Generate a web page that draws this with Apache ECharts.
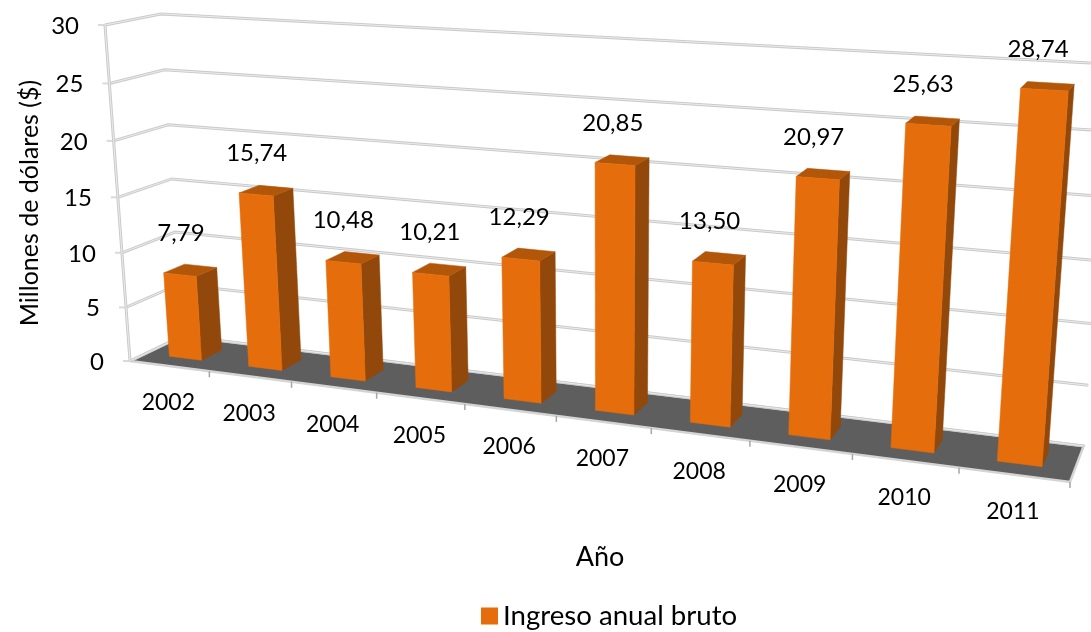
<!DOCTYPE html>
<html>
<head>
<meta charset="utf-8">
<style>
  html, body { margin: 0; padding: 0; background: #fff; }
  #main { width: 1091px; height: 632px; }
</style>
<script src="https://cdn.jsdelivr.net/npm/echarts@6/dist/echarts.min.js"></script>
</head>
<body>
<div id="main"></div>
<script>
const years = ['2002', '2003', '2004', '2005', '2006', '2007', '2008', '2009', '2010', '2011'];
const ingreso = [7.79, 15.74, 10.48, 10.21, 12.29, 20.85, 13.50, 20.97, 25.63, 28.74];
const yTicks = [0, 5, 10, 15, 20, 25, 30];

const fontName = 'Lato, "Noto Sans", sans-serif';

// projection of the chart box: origin is the front left foot of the axes,
// each edge has its end point on screen and a perspective weight
const origin = [130, 361];
const edgeU = { end: [1070, 482], weight: 0.83 };
const edgeV = { end: [105, 25], weight: 0.95 };
const edgeW = { end: [182, 336], weight: 1.045 };

function project(u, v, w) {
  const p = [0, 1].map(k => origin[k]
    + u * (edgeU.weight * edgeU.end[k] - origin[k])
    + v * (edgeV.weight * edgeV.end[k] - origin[k])
    + w * (edgeW.weight * edgeW.end[k] - origin[k]));
  const d = 1 + u * (edgeU.weight - 1) + v * (edgeV.weight - 1) + w * (edgeW.weight - 1);
  return [p[0] / d, p[1] / d];
}

// grid pixels -> unit box, so the marks still go through the axes
function toUnit(params, pt) {
  const r = params.coordSys;
  return [(pt[0] - r.x) / r.width, (r.y + r.height - pt[1]) / r.height];
}

function face(points, color) {
  return { type: 'polygon', shape: { points: points }, style: { fill: color, stroke: color, lineWidth: 0.5 } };
}

function wallLine(points, width, color) {
  return { type: 'polyline', shape: { points: points }, style: { fill: null, stroke: color, lineWidth: width } };
}

function label(text, x, y, align, size) {
  return {
    type: 'text',
    style: { text: text, x: x, y: y, align: align || 'center', verticalAlign: 'middle', fontSize: size, fontFamily: fontName, fill: '#000' }
  };
}

function renderFloor() {
  const pts = [project(0, 0, 0), project(1, 0, 0), project(1, 0, 1), project(0, 0, 1)];
  return {
    type: 'group',
    children: [
      { type: 'polygon', shape: { points: pts }, style: { fill: '#5e5e5e', stroke: '#d4d4d4', lineWidth: 2.5 } }
    ]
  };
}

function renderLevel(params, api) {
  const v = toUnit(params, api.coord([0, api.value(1)]))[1];
  const pts = [project(0, v, 0), project(0, v, 1), project(1, v, 1)];
  const front = pts[0];
  const children = [
    wallLine(pts, 3, '#cacaca'),
    wallLine(pts, 0.8, '#f4f4f4'),
    wallLine([[front[0] - 7, front[1]], front], 2, '#dadada'),
    label(String(api.value(1)), front[0] - 26, front[1] + 1, 'right', 24)
  ];
  return { type: 'group', children: children };
}

function renderAxes() {
  const pts = [project(0, 0, 0), project(0, 1, 0)];
  return {
    type: 'group',
    children: [wallLine(pts, 3, '#cacaca'), wallLine(pts, 0.8, '#f4f4f4')]
  };
}

function renderYear(params, api) {
  const i = api.value(0);
  const c = toUnit(params, api.coord([i, 0]));
  const band = api.size([1, 0])[0] / params.coordSys.width;
  const mid = project(c[0], 0, 0);
  const tickEnd = project(c[0] + band / 2, 0, 0);
  return {
    type: 'group',
    children: [
      wallLine([tickEnd, [tickEnd[0], tickEnd[1] + 6]], 1.5, '#a6a6a6'),
      label(years[i], mid[0] - 1, mid[1] + 37, 'center', 23)
    ]
  };
}

function renderBar(params, api) {
  const i = api.value(0);
  const val = api.value(1);
  const c = toUnit(params, api.coord([i, val]));
  const band = api.size([1, 0])[0] / params.coordSys.width;
  const a = c[0] - band * 0.2, b = c[0] + band * 0.21;
  const h = c[1];
  const w0 = 0.3, w1 = 0.7;
  const top = project(c[0], h, 0.5);
  return {
    type: 'group',
    children: [
      face([project(b, 0, w0), project(b, 0, w1), project(b, h, w1), project(b, h, w0)], '#91480a'),
      face([project(a, h, w0), project(b, h, w0), project(b, h, w1), project(a, h, w1)], '#b2560a'),
      face([project(a, 0, w0), project(b, 0, w0), project(b, h, w0), project(a, h, w0)], '#e56d0b'),
      label(val.toFixed(2).replace('.', ','), top[0] - 9, top[1] - 37, 'center', 24)
    ]
  };
}

const chart = echarts.init(document.getElementById('main'), null, { renderer: 'canvas' });
chart.setOption({
  animation: false,
  backgroundColor: '#fff',
  grid: { left: 0, right: 0, top: 0, bottom: 0, show: false },
  xAxis: { type: 'category', data: years, show: false },
  yAxis: { type: 'value', min: 0, max: 30, interval: 5, show: false },
  legend: {
    data: [{ name: 'Ingreso anual bruto', icon: 'rect' }],
    left: 481, top: 602, padding: 0, itemWidth: 17, itemHeight: 17, itemGap: 8,
    selectedMode: false,
    textStyle: { fontSize: 27.6, fontFamily: fontName, color: '#000', padding: [0, 0, 0, 0] }
  },
  graphic: [
    { type: 'text', x: 30, y: 203, rotation: Math.PI / 2, silent: true,
      style: { text: 'Millones de dólares ($)', align: 'center', verticalAlign: 'middle', fontSize: 25, fontFamily: fontName, fill: '#000' } },
    { type: 'text', x: 600, y: 557, silent: true,
      style: { text: 'Año', align: 'center', verticalAlign: 'middle', fontSize: 27, fontFamily: fontName, fill: '#000' } }
  ],
  series: [
    { type: 'custom', name: 'suelo', silent: true, data: [[0, 0]], renderItem: renderFloor, z: 1 },
    { type: 'custom', name: 'niveles', silent: true, data: yTicks.map(v => [0, v]), renderItem: renderLevel, z: 2 },
    { type: 'custom', name: 'ejes', silent: true, data: [[0, 0]], renderItem: renderAxes, z: 2 },
    { type: 'custom', name: 'años', silent: true, data: years.map((y, i) => [i, 0]), renderItem: renderYear, z: 3 },
    {
      type: 'custom', name: 'Ingreso anual bruto', silent: true,
      itemStyle: { color: '#e56d0b' },
      data: ingreso.map((v, i) => [i, v]),
      renderItem: renderBar, z: 4
    }
  ]
});
</script>
</body>
</html>
